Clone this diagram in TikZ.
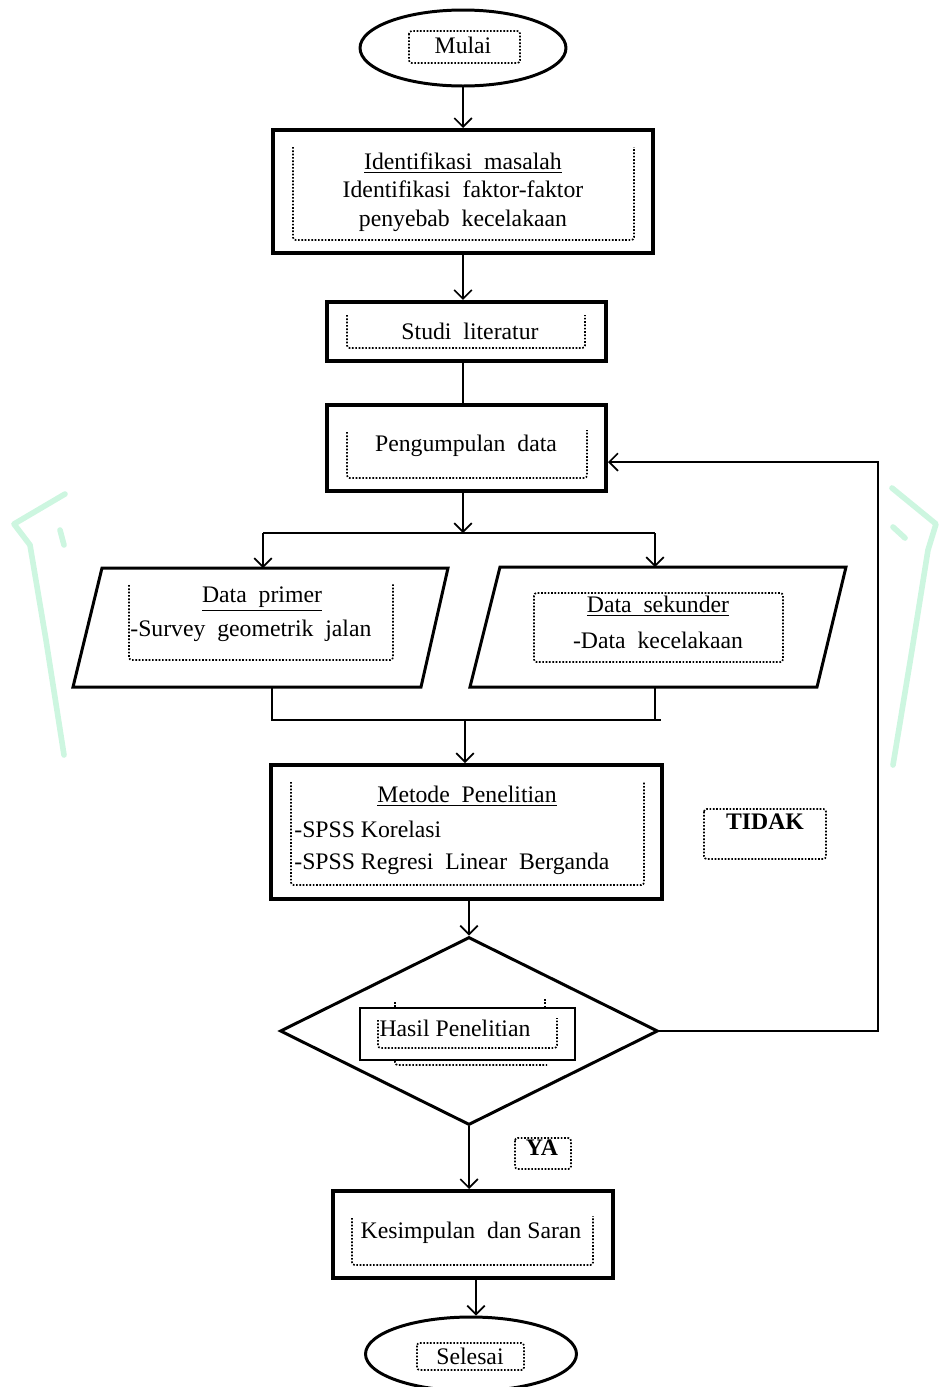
\documentclass[tikz,border=0pt]{standalone}
\usepackage{fontspec}
\setmainfont{Liberation Serif}
\usetikzlibrary{shapes.geometric,arrows.meta}
\newcommand\dgfont{\fontsize{13.5}{16.2}\selectfont}
\definecolor{wmgreen}{RGB}{205,246,224}
\tikzset{
  thickbox/.style={draw, line width=2.3pt, rectangle, inner sep=0pt, align=center, font=\dgfont},
  oval/.style={draw, line width=1.7pt, ellipse, inner sep=0pt, font=\dgfont},
  shapeline/.style={line width=1.7pt, line join=miter},
  dotbox/.style={line width=0.95pt, dash pattern=on 0.95pt off 0.95pt, rounded corners=1.5pt},
  txt/.style={inner sep=0pt, font=\dgfont},
  btxt/.style={inner sep=0pt, font=\dgfont\bfseries},
  conn/.style={line width=0.95pt},
  arr/.style={conn, -{Straight Barb[length=5pt,width=10pt]}},
  wm/.style={draw=wmgreen, line width=3.2pt, line cap=round, line join=round}
}
\begin{document}
\begin{tikzpicture}[x=0.02cm,y=-0.02cm]
\useasboundingbox (0,0) rectangle (942,1387);

% faint watermark strokes
\draw[wm] (65,494) -- (14,524) -- (30,545) -- (46,640) -- (64,755);
\draw[wm] (60,530) -- (64,545);
\draw[wm] (892,488) -- (936,524) -- (928,550) -- (912,650) -- (893,765);
\draw[wm] (893,527) -- (905,538);

% Mulai
\node[oval, minimum width=4.12cm, minimum height=1.52cm] (mulai) at (463,48) {};
\draw[dotbox] (409,31) rectangle (520,63);
\node[txt] (tmulai) at (463,45) {Mulai};

% Box 1
\node[thickbox, minimum width=7.6cm, minimum height=2.46cm] (b1) at (463,191.5) {};
\draw[dotbox] (293,147) -- (293,240) -- (634,240) -- (634,147);
\node[txt, align=center] (tb1) at (463,192) {\underline{Identifikasi\ \ masalah}\\Identifikasi\ \ faktor-faktor\\penyebab\ \ kecelakaan};

% Box 2
\node[thickbox, minimum width=5.58cm, minimum height=1.18cm] (b2) at (466.5,331.5) {};
\draw[dotbox] (347,315) -- (347,348) -- (585,348) -- (585,315);
\node[txt] (tb2) at (470,331) {Studi\ \ literatur};

% Box 3
\node[thickbox, minimum width=5.58cm, minimum height=1.72cm] (b3) at (466.5,448) {};
\draw[dotbox] (347,432) -- (347,478) -- (587,478) -- (587,430);
\node[txt] (tb3) at (466,446) {Pengumpulan\ \ data};

% split
\coordinate (split) at (463,533);
\coordinate (sL) at (263,533);
\coordinate (sR) at (655,533);
\coordinate (p1top) at (263,568);
\coordinate (p2top) at (655,567);

% Parallelogram 1
\draw[shapeline] (102,568) -- (448,568) -- (421,687) -- (73,687) -- cycle;
\draw[dotbox] (129,585) -- (129,660) -- (393,660) -- (393,583);
\node[txt] (tp1a) at (262,599) {\underline{Data\ \ primer}};
\node[txt, anchor=west] (tp1b) at (130,631) {-Survey\ \ geometrik\ \ jalan};
\coordinate (p1bot) at (272,687);

% Parallelogram 2
\draw[shapeline] (500,567) -- (846,567) -- (817,687) -- (470,687) -- cycle;
\draw[dotbox] (534,593) rectangle (783,662);
\node[txt] (tp2a) at (658,606) {\underline{Data\ \ sekunder}};
\node[txt] (tp2b) at (658,640) {-Data\ \ kecelakaan};
\coordinate (p2bot) at (655,687);

% join
\coordinate (jL) at (272,720);
\coordinate (jR) at (655,720);
\coordinate (jE) at (661,720);
\coordinate (jM) at (465,720);

% Metode
\node[thickbox, minimum width=7.82cm, minimum height=2.68cm] (met) at (466.5,832) {};
\draw[dotbox] (291,782) -- (291,885) -- (644,885) -- (644,782);
\node[txt] (tm1) at (467,796) {\underline{Metode\ \ Penelitian}};
\node[txt, anchor=west] (tm2) at (294,829) {-SPSS Korelasi};
\node[txt, anchor=west] (tm3) at (294,864) {-SPSS Regresi\ \ Linear\ \ Berganda};

% TIDAK
\draw[dotbox] (704,809) rectangle (826,859);
\node[btxt] (tidak) at (765,822) {TIDAK};

% Diamond
\node[draw, diamond, shapeline, inner sep=0pt, minimum width=7.56cm, minimum height=3.76cm] (dia) at (469,1031) {};
\node[draw, line width=0.8pt, fill=white, rectangle, inner sep=0pt, minimum width=4.3cm, minimum height=1.04cm] (hasil) at (467.5,1034) {};
\draw[dotbox] (378,1020) -- (378,1048) -- (557,1048) -- (557,1018);
\draw[dotbox] (395,1002) -- (395,1007);
\draw[dotbox] (545,999) -- (545,1007);
\draw[dotbox] (395,1061) -- (395,1065) -- (547,1065);
\node[txt] (thasil) at (455,1028) {Hasil Penelitian};

% YA
\draw[dotbox] (515,1138) rectangle (571,1169);
\node[btxt] (ya) at (542,1148) {YA};

% Kesimpulan
\node[thickbox, minimum width=5.6cm, minimum height=1.74cm] (kes) at (473,1234.5) {};
\draw[dotbox] (352,1218) -- (352,1265) -- (593,1265) -- (593,1216);
\node[txt] (tkes) at (471,1233) {Kesimpulan\ \ dan Saran};

% Selesai
\node[oval, minimum width=4.22cm, minimum height=1.48cm] (sel) at (471,1354) {};
\draw[dotbox] (417,1343) rectangle (524,1370);
\node[txt] (tsel) at (470,1356) {Selesai};

% connectors
\coordinate (fb) at (878,462);
\coordinate (xk) at (476,0);
\draw[arr] (mulai.south) -- (b1.north);
\draw[arr] (b1.south) -- (b1.south |- b2.north);
\draw[conn] (b1.south |- b2.south) -- (b1.south |- b3.north);
\draw[arr] (b1.south |- b3.south) -- (split);
\draw[conn] (sL) -- (sR);
\draw[arr] (sL) -- (p1top);
\draw[arr] (sR) -- (p2top);
\draw[conn] (p1bot) -- (jL) -- (jE);
\draw[conn] (p2bot) -- (jR);
\draw[arr] (jM) -- (jM |- met.north);
\draw[arr] (met.south -| dia.north) -- (dia.north);
\draw[arr] (dia.east) -| (fb) -- (fb -| b3.east);
\draw[arr] (dia.south) -- (dia.south |- kes.north);
\draw[arr] (xk |- kes.south) -- (xk |- sel.north);
\end{tikzpicture}
\end{document}
